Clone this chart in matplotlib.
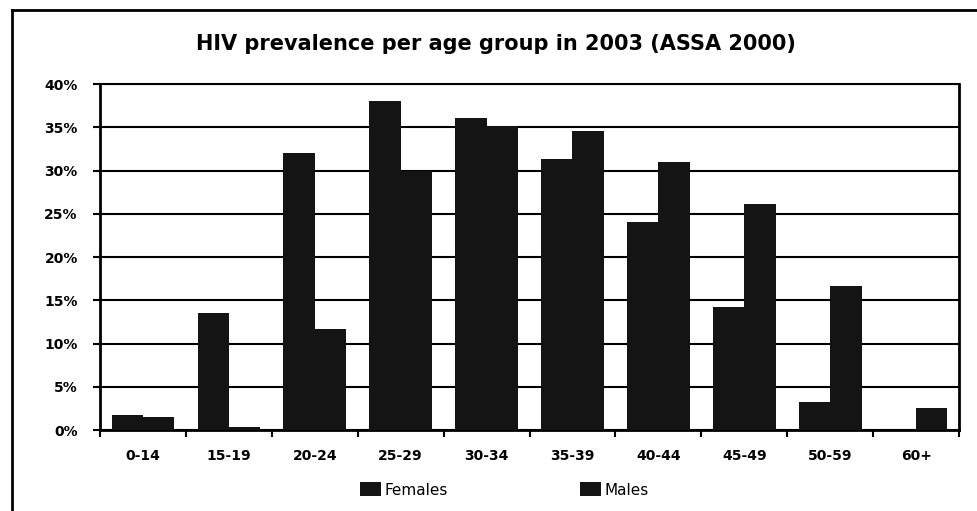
import numpy as np
import matplotlib
matplotlib.use("Agg")
import matplotlib.pyplot as plt
from matplotlib.lines import Line2D
from matplotlib.ticker import FixedLocator, PercentFormatter

# HIV prevalence by age group, 2003 (ASSA 2000 model)
age_groups = ["0-14", "15-19", "20-24", "25-29", "30-34",
              "35-39", "40-44", "45-49", "50-59", "60+"]
females = [1.7, 13.5, 32.0, 38.0, 36.1, 31.3, 24.0, 14.2, 3.2, 0.0]
males = [1.5, 0.4, 11.7, 30.0, 35.2, 34.6, 31.0, 26.1, 16.6, 2.5]

plt.rcParams["font.family"] = ["DejaVu Sans"]

fig = plt.figure(figsize=(9.77, 5.11), dpi=100)
ax = fig.add_axes([0.1024, 0.1585, 0.8792, 0.6771])

x = np.arange(len(age_groups))
w = 0.365
bar_color = "#141414"
ax.bar(x - w / 2, females, w, color=bar_color, label="Females", zorder=3)
ax.bar(x + w / 2, males, w, color=bar_color, label="Males", zorder=3)

ax.set_xlim(-0.5, len(age_groups) - 0.5)
ax.set_ylim(0, 40)
ax.yaxis.set_major_locator(FixedLocator(np.arange(0, 41, 5)))
ax.yaxis.set_major_formatter(PercentFormatter(decimals=0))
ax.grid(axis="y", color="black", linewidth=1.5, zorder=0)

# labels centred under each group, tick marks between groups
ax.set_xticks(x)
ax.set_xticklabels(age_groups)
ax.xaxis.set_minor_locator(FixedLocator(np.arange(-0.5, len(age_groups), 1)))
ax.tick_params(axis="x", which="major", length=0, pad=14, labelsize=10)
ax.tick_params(axis="x", which="minor", length=5, width=1.5, direction="out")
ax.tick_params(axis="y", length=5, width=1.5, labelsize=10, pad=11)
for lab in ax.get_xticklabels() + ax.get_yticklabels():
    lab.set_fontweight("bold")

for side in ["left", "bottom", "right"]:
    ax.spines[side].set_linewidth(2)
ax.spines["top"].set_linewidth(1.5)

fig.text(496 / 977, 1 - 44 / 511, "HIV prevalence per age group in 2003 (ASSA 2000)",
         ha="center", va="center", fontsize=15, fontweight="bold")

fig.legend(loc="center", bbox_to_anchor=(504 / 977, 1 - 490 / 511), ncol=2,
           frameon=False, fontsize=11, handlelength=1.4, handleheight=1.0,
           handletextpad=0.2, columnspacing=8.65)

# outer chart frame (top and left edges)
fig.add_artist(Line2D([12 / 977, 1.0], [1 - 10 / 511] * 2, color="black",
                      linewidth=2, transform=fig.transFigure))
fig.add_artist(Line2D([12 / 977] * 2, [0.0, 1 - 10 / 511], color="black",
                      linewidth=2, transform=fig.transFigure))

fig.savefig("out.png", dpi=100, facecolor="white")
